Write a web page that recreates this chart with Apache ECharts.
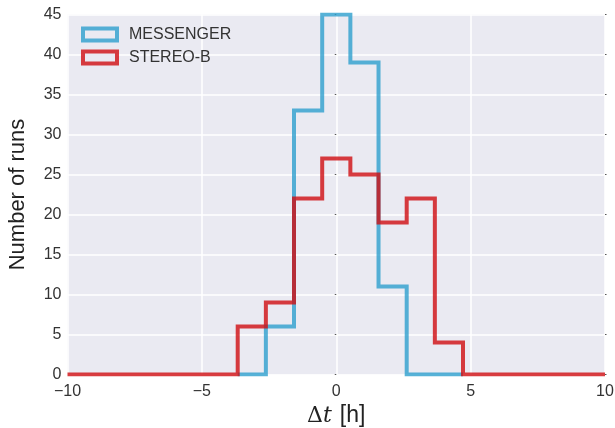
<!DOCTYPE html>
<html><head><meta charset="utf-8">
<script src="https://cdn.jsdelivr.net/npm/echarts@6/dist/echarts.min.js"></script>
<style>html,body{margin:0;padding:0;background:#fff}#c{width:615px;height:428px}</style>
</head><body><div id="c"></div>
<script>
// Histogram bin edges (hours) and counts
const binEdges = [-3.667, -2.619, -1.571, -0.523, 0.525, 1.573, 2.621, 3.669, 4.717];
const messengerCounts = [0, 6, 33, 45, 39, 11, 0, 0];
const stereoCounts = [6, 9, 22, 27, 25, 19, 22, 4];
const xTicks = [-10, -5, 0, 5, 10];
const yTicks = [0, 5, 10, 15, 20, 25, 30, 35, 40, 45];
const seriesNames = ['MESSENGER', 'STEREO-B'];

function stepPoints(edges, counts) {
  const pts = [[edges[0], 0]];
  for (let i = 0; i < counts.length; i++) {
    pts.push([edges[i], counts[i]]);
    pts.push([edges[i + 1], counts[i]]);
  }
  pts.push([edges[edges.length - 1], 0]);
  return pts;
}
const blueCol = 'rgba(45,159,205,0.8)';
const redCol = 'rgba(208,13,16,0.8)';
const bluePts = stepPoints(binEdges, messengerCounts);
const redPts = [[xTicks[0], 0]].concat(stepPoints(binEdges, stereoCounts)).concat([[xTicks[xTicks.length - 1], 0]]);

const chart = echarts.init(document.getElementById('c'), null, {renderer: 'canvas'});
const grid = {left: 67.5, right: 10, top: 14.5, bottom: 53.5, show: true, backgroundColor: '#EAEAF2', borderWidth: 0,
  containLabel: false, outerBoundsMode: 'none'};
const sans = 'Liberation Sans, Arial, sans-serif';
chart.setOption({
  animation: false,
  backgroundColor: '#ffffff',
  grid: grid,
  legend: {
    left: 76, top: 21.5, orient: 'vertical', itemGap: 7,
    itemWidth: 34, itemHeight: 12,
    textStyle: {fontFamily: sans, fontSize: 16, color: '#333', padding: [0, 0, 0, 7]},
    data: [
      {name: seriesNames[0], icon: 'rect', itemStyle: {color: '#EAEAF2', borderColor: blueCol, borderWidth: 4}},
      {name: seriesNames[1], icon: 'rect', itemStyle: {color: '#EAEAF2', borderColor: redCol, borderWidth: 4}}
    ]
  },
  xAxis: {
    type: 'value', min: -10, max: 10, interval: 5,
    name: '{d|Δ}{t|t}{h|[h]}', nameLocation: 'middle', nameGap: 26,
    nameTextStyle: {rich: {
      d: {fontFamily: 'DejaVu Serif', fontSize: 22, color: '#222'},
      t: {fontFamily: 'DejaVu Serif', fontStyle: 'italic', fontSize: 22, color: '#222'},
      h: {fontFamily: sans, fontSize: 23, color: '#222', padding: [0, 0, 0, 8]}
    }},
    axisLine: {show: false}, axisTick: {show: false},
    axisLabel: {fontFamily: sans, fontSize: 16, color: '#333', margin: 9,
      formatter: v => (v < 0 ? '\u2212' + Math.abs(v) : String(v))},
    splitLine: {show: true, lineStyle: {color: '#ffffff', width: 1.5}}
  },
  yAxis: [{
    type: 'value', min: 0, max: 45, interval: 5,
    name: 'Number of runs', nameLocation: 'middle', nameGap: 38.5, nameRotate: 90,
    nameTextStyle: {fontFamily: sans, fontSize: 22, color: '#222'},
    axisLine: {show: false},
    axisTick: {show: true, length: 1.5, lineStyle: {color: '#555'}},
    axisLabel: {fontFamily: sans, fontSize: 16, color: '#333', margin: 6},
    splitLine: {show: true, lineStyle: {color: '#ffffff', width: 1.5}}
  }, {
    type: 'value', min: 0, max: 45, interval: 5, position: 'right',
    axisLine: {show: false},
    axisTick: {show: true, length: 1.5, lineStyle: {color: '#555'}},
    axisLabel: {show: false}, splitLine: {show: false}
  }],
  series: [
    {name: seriesNames[0], type: 'line', data: bluePts, showSymbol: false, clip: true,
      color: blueCol, lineStyle: {color: blueCol, width: 4, join: 'miter'}},
    {name: seriesNames[1], type: 'line', data: redPts, showSymbol: false, clip: true,
      color: redCol, lineStyle: {color: redCol, width: 4, join: 'miter'}}
  ]
});
</script></body></html>
